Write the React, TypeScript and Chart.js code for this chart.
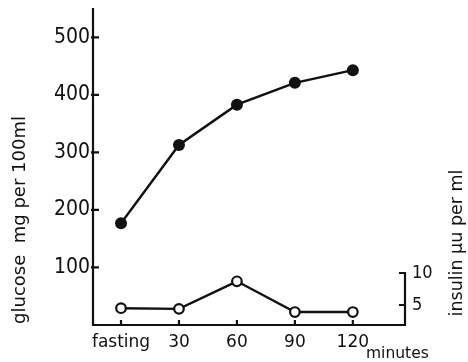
import React, { useEffect, useRef } from "react";
import { Chart, registerables } from "chart.js";

Chart.register(...registerables);

const timeCategories = ["fasting", "30", "60", "90", "120"];
const timeMinutes = [0, 30, 60, 90, 120];
const glucoseValues = [177, 313, 383, 421, 443];
const insulinValues = [4.5, 4.4, 8.7, 3.9, 3.9];
const glucoseTicks = [100, 200, 300, 400, 500];
const insulinTicks = [5, 10];
const glucoseTitle = "glucose  mg per 100ml";
const insulinTitle = "insulin µu per ml";
const timeUnit = "minutes";

const INK = "#111111";
const TICK_FONT = "'Liberation Sans Narrow', 'DejaVu Sans Condensed', 'DejaVu Sans', sans-serif";
const TEXT_FONT = "'DejaVu Sans', sans-serif";

const paperAxes = {
  id: "paperAxes",
  beforeDatasetsDraw(chart: any) {
    const { ctx, chartArea, scales } = chart;
    const { left, right, top, bottom } = chartArea;
    const x = scales.x, y = scales.y, y1 = scales.y1;
    ctx.save();
    ctx.strokeStyle = INK;
    ctx.lineWidth = 2.2;
    ctx.lineCap = "butt";
    ctx.lineJoin = "miter";
    const topIns = y1.getPixelForValue(insulinTicks[insulinTicks.length - 1]);
    ctx.beginPath();
    ctx.moveTo(left, top);
    ctx.lineTo(left, bottom);
    ctx.lineTo(right, bottom);
    ctx.lineTo(right, topIns);
    ctx.lineTo(right - 6, topIns);
    ctx.stroke();
    ctx.beginPath();
    for (const v of glucoseTicks) {
      const py = y.getPixelForValue(v);
      ctx.moveTo(left - 2, py);
      ctx.lineTo(left + 6, py);
    }
    for (const v of timeMinutes) {
      const px = x.getPixelForValue(v);
      ctx.moveTo(px, bottom);
      ctx.lineTo(px, bottom - 5);
    }
    for (const v of insulinTicks.slice(0, -1)) {
      const py = y1.getPixelForValue(v);
      ctx.moveTo(right - 6, py);
      ctx.lineTo(right, py);
    }
    ctx.stroke();
    ctx.restore();
  },
  afterDraw(chart: any) {
    const { ctx } = chart;
    ctx.save();
    ctx.fillStyle = INK;
    ctx.textAlign = "center";
    ctx.textBaseline = "middle";
    ctx.font = `18px ${TEXT_FONT}`;
    ctx.translate(20, 220);
    ctx.rotate(-Math.PI / 2);
    ctx.fillText(glucoseTitle, 0, 0);
    ctx.restore();

    ctx.save();
    ctx.fillStyle = INK;
    ctx.textAlign = "center";
    ctx.textBaseline = "middle";
    ctx.font = `17.5px ${TEXT_FONT}`;
    ctx.translate(457, 243);
    ctx.rotate(-Math.PI / 2);
    ctx.fillText(insulinTitle, 0, 0);
    ctx.restore();

    ctx.save();
    ctx.fillStyle = INK;
    ctx.textAlign = "left";
    ctx.textBaseline = "alphabetic";
    ctx.font = `15.5px ${TEXT_FONT}`;
    ctx.fillText(timeUnit, 366, 358);
    ctx.restore();
  },
};

function zeroPad(s: any) {
  s.paddingLeft = 0;
  s.paddingRight = 0;
  s.paddingTop = 0;
  s.paddingBottom = 0;
}

export default function App() {
  const ref = useRef<HTMLCanvasElement>(null);
  useEffect(() => {
    if (!ref.current) return;
    const chart = new Chart(ref.current, {
      type: "line",
      data: {
        datasets: [
          {
            label: "glucose",
            data: timeMinutes.map((m, i) => ({ x: m, y: glucoseValues[i] })),
            yAxisID: "y",
            borderColor: INK,
            borderWidth: 2.4,
            pointRadius: 6,
            pointBackgroundColor: INK,
            pointBorderColor: INK,
            pointBorderWidth: 0,
            tension: 0,
          },
          {
            label: "insulin",
            data: timeMinutes.map((m, i) => ({ x: m, y: insulinValues[i] })),
            yAxisID: "y1",
            borderColor: INK,
            borderWidth: 2.4,
            pointRadius: 4.8,
            pointBackgroundColor: "#ffffff",
            pointBorderColor: INK,
            pointBorderWidth: 2.2,
            tension: 0,
          },
        ],
      },
      options: {
        responsive: false,
        animation: false,
        devicePixelRatio: 1,
        layout: { padding: { top: 8, left: 0, right: 0, bottom: 0 } },
        plugins: { legend: { display: false }, tooltip: { enabled: false } },
        scales: {
          x: {
            type: "linear",
            min: -14.5,
            max: 147,
            afterBuildTicks: (s: any) => {
              s.ticks = timeMinutes.map((v) => ({ value: v }));
            },
            afterFit: (s: any) => {
              s.height = 37;
              zeroPad(s);
            },
            grid: { display: false, drawTicks: false },
            border: { display: false },
            ticks: {
              autoSkip: false,
              maxRotation: 0,
              padding: 7,
              color: INK,
              font: { family: TEXT_FONT, size: 17 },
              callback: (v: any) => {
                const i = timeMinutes.indexOf(Number(v));
                return i >= 0 ? timeCategories[i] : "";
              },
            },
          },
          y: {
            type: "linear",
            position: "left",
            min: 0,
            max: 551,
            afterBuildTicks: (s: any) => {
              s.ticks = glucoseTicks.map((v) => ({ value: v }));
            },
            afterFit: (s: any) => {
              s.width = 93;
              zeroPad(s);
            },
            grid: { display: false, drawTicks: false },
            border: { display: false },
            ticks: {
              padding: 3,
              color: INK,
              font: { family: TICK_FONT, size: 21 },
            },
          },
          y1: {
            type: "linear",
            position: "right",
            min: 1.875,
            max: 51.4,
            afterBuildTicks: (s: any) => {
              s.ticks = insulinTicks.map((v) => ({ value: v }));
            },
            afterFit: (s: any) => {
              s.width = 63;
              zeroPad(s);
            },
            grid: { display: false, drawTicks: false },
            border: { display: false },
            ticks: {
              padding: 7,
              color: INK,
              font: { family: TICK_FONT, size: 18 },
            },
          },
        },
      },
      plugins: [paperAxes],
    });
    return () => chart.destroy();
  }, []);
  return (
    <div style={{ position: "absolute", left: 0, top: 0, width: 468, height: 362, background: "#fff" }}>
      <canvas ref={ref} width={468} height={362} style={{ display: "block" }} />
    </div>
  );
}
